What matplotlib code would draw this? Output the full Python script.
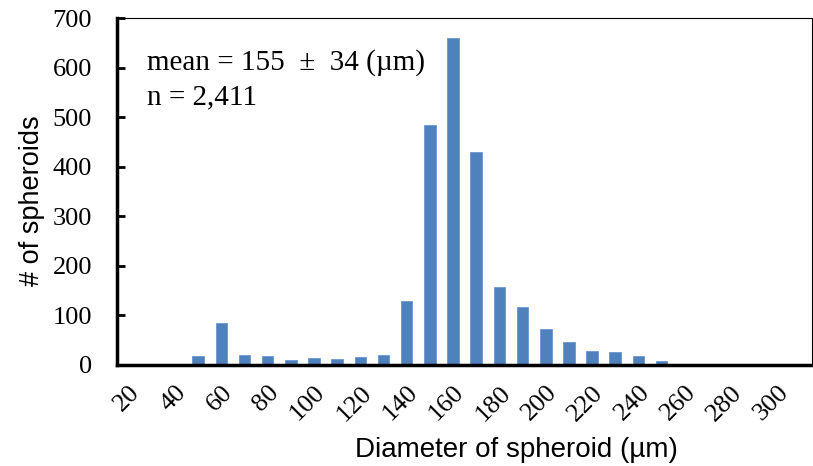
import matplotlib.pyplot as plt
import numpy as np

# Histogram of spheroid diameters (bins of 10 um)
diameters = list(range(20, 320, 10))
counts = [0, 0, 0, 17, 85, 20, 18, 9, 13, 12, 15, 19, 128, 484, 659, 429,
          157, 117, 72, 47, 29, 27, 18, 7, 2, 1, 2, 0, 1, 0]
tick_labels = [str(d) for d in diameters[::2]]

fig = plt.figure(figsize=(8.13, 4.66), dpi=100)
ax = fig.add_axes([0.144, 0.217, 0.855, 0.744])

x = np.arange(len(diameters))
ax.bar(x, counts, width=0.5, color='#4F81BD', edgecolor='#6A97CF', linewidth=0.6)

ax.set_xlim(-0.5, len(diameters) - 0.5)
ax.set_ylim(0, 700)
ax.set_yticks(range(0, 701, 100))
ax.set_yticklabels([str(v) for v in range(0, 701, 100)],
                   family='Liberation Serif', fontsize=19)
ax.set_xticks(x[::2])
ax.set_xticklabels(tick_labels, rotation=45, ha='right', va='top',
                   rotation_mode='anchor', family='Liberation Serif', fontsize=19)
ax.tick_params(axis='x', length=0, pad=12)
ax.tick_params(axis='y', direction='in', length=6, width=2, pad=18)

for side in ['left', 'bottom']:
    ax.spines[side].set_linewidth(2.5)
for side in ['top', 'right']:
    ax.spines[side].set_linewidth(0.8)

xl = ax.set_xlabel('Diameter of spheroid (µm)', family='Liberation Sans', fontsize=20)
xl.set_va('center')
ax.xaxis.set_label_coords(0.575, -0.245)
yl = ax.set_ylabel('# of spheroids', family='Liberation Sans', fontsize=19.5)
yl.set_va('center')
ax.yaxis.set_label_coords(-0.122, 0.475)

ax.text(0.043, 0.872, 'mean = 155  ±  34 (µm)', transform=ax.transAxes,
        family='Liberation Serif', fontsize=21, va='center')
ax.text(0.043, 0.772, 'n = 2,411', transform=ax.transAxes,
        family='Liberation Serif', fontsize=21, va='center')

fig.savefig('out.png', dpi=100)
